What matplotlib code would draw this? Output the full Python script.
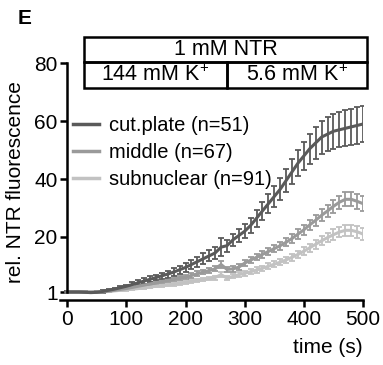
import numpy as np
import matplotlib
matplotlib.use("Agg")
from matplotlib import pyplot as plt
import matplotlib.transforms as mtransforms
from matplotlib.patches import Rectangle

plt.rcParams['font.family'] = ['Liberation Sans', 'DejaVu Sans']
plt.rcParams['mathtext.default'] = 'regular'

# time points (s)
t = np.arange(0, 501, 10)

cut_mean = [1.0, 1.0, 1.0, 0.9, 0.8, 0.9, 1.2, 1.6, 2.0, 2.5,
            3.0, 3.6, 4.2, 4.8, 5.4, 6.0, 6.6, 7.2, 7.9, 8.7,
            9.5, 10.5, 11.5, 12.5, 13.5, 14.5, 16.5, 17.0, 19.0, 20.5,
            22.0, 24.0, 26.5, 29.0, 31.5, 34.0, 36.5, 39.5, 42.5, 45.5,
            48.0, 50.5, 52.5, 54.5, 55.5, 56.5, 57.0, 57.5, 58.0, 58.5, 59.0]
cut_err = [0.3, 0.3, 0.3, 0.3, 0.3, 0.3, 0.4, 0.4, 0.5, 0.5,
           0.6, 0.7, 0.8, 0.9, 1.0, 1.0, 1.1, 1.2, 1.3, 1.4,
           1.5, 1.6, 1.7, 1.8, 1.9, 2.0, 3.0, 2.1, 2.2, 2.3,
           2.5, 2.7, 2.9, 3.1, 3.3, 3.5, 3.8, 4.0, 4.3, 4.6,
           4.9, 5.2, 5.5, 5.7, 5.9, 6.0, 6.1, 6.2, 6.2, 6.3, 6.3]

mid_mean = [1.0, 1.0, 1.0, 0.9, 0.9, 1.0, 1.1, 1.3, 1.6, 1.9,
            2.2, 2.6, 3.0, 3.4, 3.8, 4.2, 4.6, 5.0, 5.4, 5.8,
            6.2, 6.7, 7.3, 7.9, 8.4, 9.0, 10.5, 8.8, 9.0, 9.6,
            11.0, 12.0, 13.0, 14.0, 15.0, 16.0, 17.0, 18.2, 19.5, 21.0,
            22.5, 24.2, 25.8, 27.5, 29.0, 30.6, 32.0, 33.0, 33.0, 32.3, 31.5]
mid_err = [0.2, 0.2, 0.2, 0.2, 0.2, 0.2, 0.2, 0.3, 0.3, 0.3,
           0.3, 0.4, 0.4, 0.4, 0.5, 0.5, 0.5, 0.6, 0.6, 0.6,
           0.7, 0.7, 0.8, 0.8, 0.8, 0.9, 1.2, 0.9, 1.0, 1.0,
           1.0, 1.1, 1.1, 1.2, 1.2, 1.3, 1.4, 1.4, 1.5, 1.6,
           1.7, 1.8, 1.9, 2.0, 2.1, 2.2, 2.3, 2.4, 2.4, 2.5, 2.5]

sub_mean = [1.0, 1.0, 1.0, 1.0, 1.0, 1.0, 1.1, 1.2, 1.4, 1.6,
            1.8, 2.0, 2.2, 2.5, 2.7, 3.0, 3.2, 3.4, 3.7, 4.0,
            4.3, 4.6, 5.0, 5.3, 5.6, 6.0, 7.0, 5.8, 6.4, 7.0,
            7.5, 8.0, 8.6, 9.2, 9.9, 10.6, 11.3, 12.1, 13.0, 14.0,
            15.1, 16.3, 17.5, 18.7, 19.8, 20.8, 21.7, 22.3, 22.3, 21.8, 21.0]
sub_err = [0.2, 0.2, 0.2, 0.2, 0.2, 0.2, 0.2, 0.2, 0.2, 0.3,
           0.3, 0.3, 0.3, 0.3, 0.4, 0.4, 0.4, 0.4, 0.5, 0.5,
           0.5, 0.5, 0.6, 0.6, 0.6, 0.7, 0.9, 0.7, 0.7, 0.8,
           0.8, 0.8, 0.9, 0.9, 1.0, 1.0, 1.1, 1.1, 1.2, 1.3,
           1.3, 1.4, 1.5, 1.6, 1.7, 1.8, 1.8, 1.9, 1.9, 2.0, 2.0]

labels = ['cut.plate (n=51)', 'middle (n=67)', 'subnuclear (n=91)']
colors = ['#5a5a5a', '#9a9a9a', '#c2c2c2']

fig = plt.figure(figsize=(3.83, 3.65), dpi=100)
ax = fig.add_axes([0.157, 0.178, 0.791, 0.649])

series = [(cut_mean, cut_err), (mid_mean, mid_err), (sub_mean, sub_err)]
for (m, e), c, lab in reversed(list(zip(series, colors, labels))):
    ax.errorbar(t, m, yerr=e, color=c, lw=2.2, elinewidth=1.3,
                capsize=2.5, capthick=1.3, label=lab)

ax.set_xlim(-12, 500)
ax.set_ylim(-1.76, 80)
ax.spines['top'].set_visible(False)
ax.spines['right'].set_visible(False)
ax.spines['left'].set_position(('data', 0))
ax.spines['left'].set_bounds(1, 80)
ax.spines['left'].set_linewidth(1.8)
ax.spines['bottom'].set_linewidth(1.8)
ax.set_yticks([1, 20, 40, 60, 80])
ax.set_xticks([0, 100, 200, 300, 400, 500])
ax.tick_params(width=1.8, length=5, labelsize=15, pad=2)
ax.set_ylabel('rel. NTR fluorescence', fontsize=15)
ax.yaxis.set_label_coords(-0.115, 0.5)
ax.set_xlabel('time (s)', fontsize=15, loc='right', labelpad=7)

# legend (line samples + labels)
leg_lines = [plt.Line2D([], [], color=c, lw=2.5) for c in colors]
ax.legend(leg_lines, labels, loc='upper left', bbox_to_anchor=(0.015, 0.81),
          frameon=False, fontsize=14.5, handlelength=1.3, handletextpad=0.5,
          labelspacing=0.4, borderaxespad=0)

# stimulus box above the traces
tr = mtransforms.blended_transform_factory(ax.transData, ax.transAxes)
box_kw = dict(fill=False, lw=1.8, ec='black', transform=tr, clip_on=False)
ax.add_patch(Rectangle((29, 1.004), 478, 0.106, **box_kw))
ax.add_patch(Rectangle((29, 0.895), 241, 0.109, **box_kw))
ax.add_patch(Rectangle((270, 0.895), 237, 0.109, **box_kw))
ax.text(268, 1.057, '1 mM NTR', transform=tr, ha='center', va='center', fontsize=15.5)
ax.text(149, 0.949, '144 mM K$^{+}$', transform=tr, ha='center', va='center', fontsize=15.5)
ax.text(388, 0.949, '5.6 mM K$^{+}$', transform=tr, ha='center', va='center', fontsize=15.5)

fig.text(0.045, 0.95, 'E', fontsize=15, fontweight='bold', ha='left', va='center')

fig.savefig('out.png', dpi=100)
